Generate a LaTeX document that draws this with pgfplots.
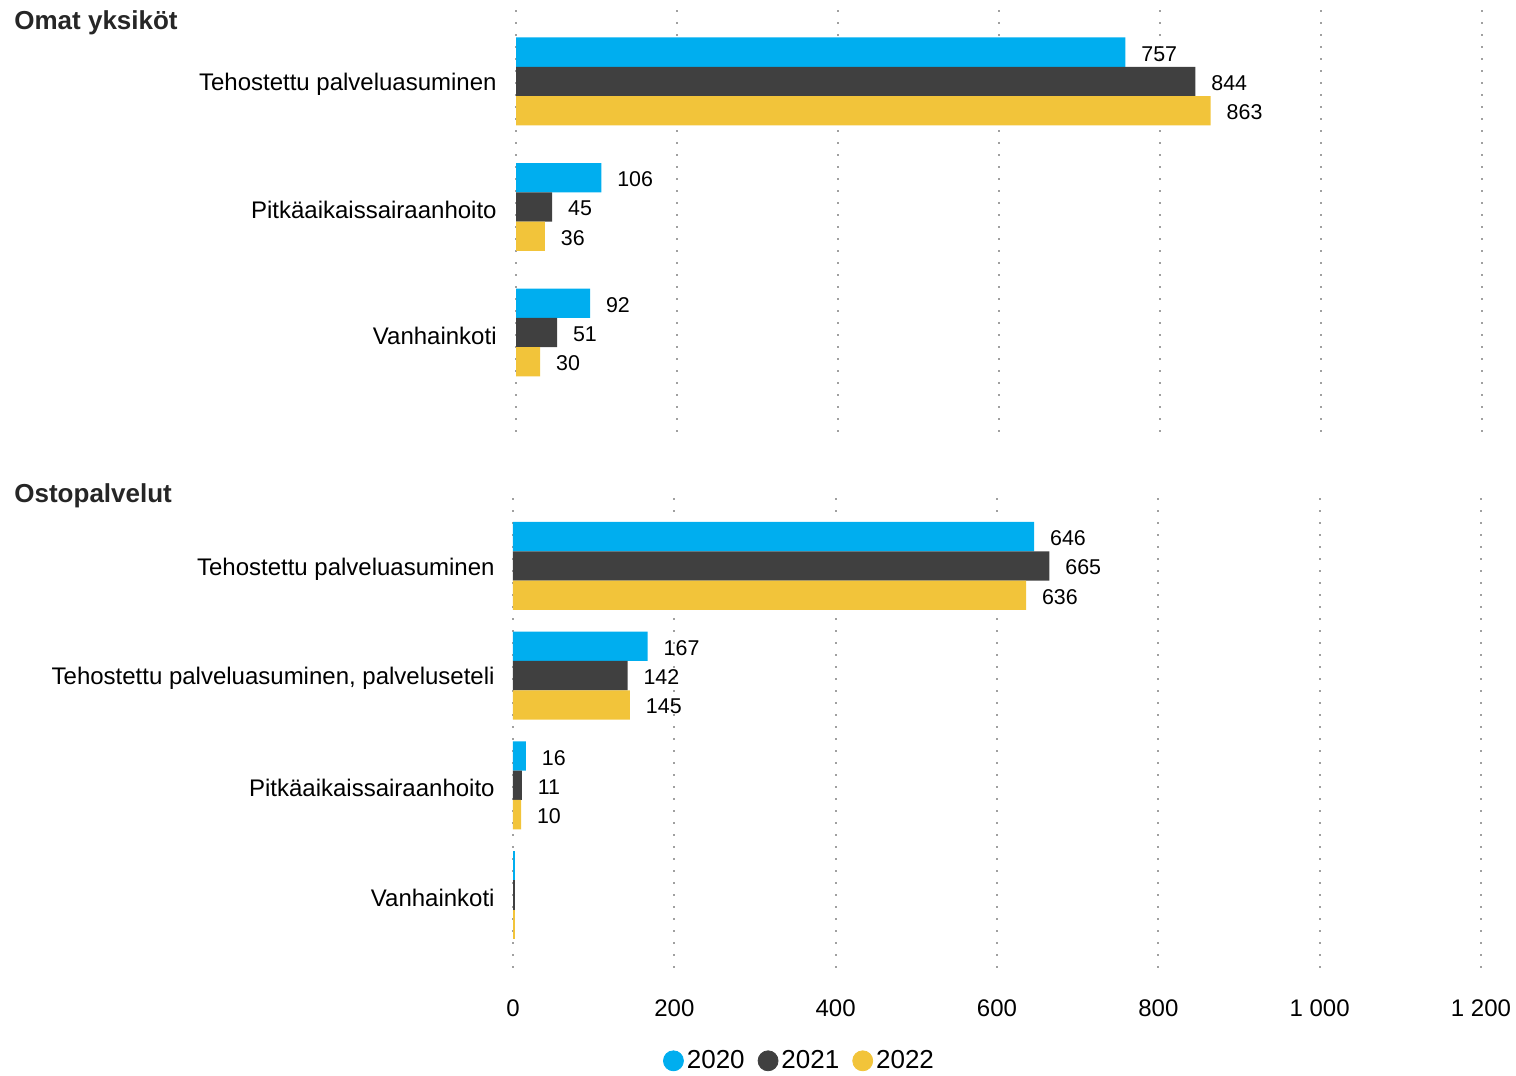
\documentclass[border=0pt]{standalone}
\usepackage{fontspec}
\setmainfont{Liberation Sans}
\usepackage{pgfplots}
\pgfplotsset{compat=1.18}
\definecolor{c20}{HTML}{00AEEF}
\definecolor{c21}{HTML}{404040}
\definecolor{c22}{HTML}{F2C43A}
\definecolor{gridc}{HTML}{A0A0A0}
\definecolor{titc}{HTML}{262626}
\pgfplotsset{
  mybase/.style={
    xbar, scale only axis,
    bar width=14.65pt,
    xmin=0, xmax=1200,
    xtick={0,200,400,600,800,1000,1200},
    xmajorgrids,
    major grid style={gridc, line width=1pt, dash pattern=on 1pt off 5pt},
    axis line style={draw=none},
    major tick length=0pt,
    tick style={draw=none},
    yticklabel style={anchor=east, inner sep=0pt, yshift=-1.5pt, font=\fontsize{12}{14}\selectfont},
    nodes near coords,
    point meta=explicit symbolic,
    nodes near coords style={anchor=west, inner sep=0pt, xshift=7.8pt, yshift=-0.8pt, font=\fontsize{10.7}{12}\selectfont, black},
  }
}
\begin{document}
\begin{tikzpicture}
\path[use as bounding box] (0,0) rectangle (758pt,538pt);
\node[anchor=west, inner sep=0pt, text=titc, font=\bfseries\fontsize{13}{15}\selectfont] at (7pt,526.5pt) {Omat yksiköt};
\node[anchor=west, inner sep=0pt, text=titc, font=\bfseries\fontsize{13}{15}\selectfont] at (7pt,290pt) {Ostopalvelut};

% Top panel
\begin{axis}[mybase,
  at={(258pt,322pt)}, anchor=south west,
  width=483pt, height=216pt,
  ymin=-0.793, ymax=2.649,
  ytick={0,1,2},
  yticklabels={Vanhainkoti,Pitkäaikaissairaanhoito,Tehostettu palveluasuminen},
  yticklabel style={xshift=-9.5pt},
  xticklabels={},
]
\addplot[fill=c20, draw=none, bar shift=14.65pt] coordinates {(757,2) [757] (106,1) [106] (92,0) [92]};
\addplot[fill=c21, draw=none, bar shift=0pt] coordinates {(844,2) [844] (45,1) [45] (51,0) [51]};
\addplot[fill=c22, draw=none, bar shift=-14.65pt] coordinates {(863,2) [863] (36,1) [36] (30,0) [30]};
\end{axis}

% Bottom panel
\begin{axis}[mybase,
  at={(256.5pt,54pt)}, anchor=south west,
  width=484pt, height=238pt,
  ymin=-0.665, ymax=3.674,
  ytick={0,1,2,3},
  yticklabels={Vanhainkoti,Pitkäaikaissairaanhoito,{Tehostettu palveluasuminen, palveluseteli},Tehostettu palveluasuminen},
  yticklabel style={xshift=-9pt},
  xticklabels={0,200,400,600,800,1 000,1 200},
  xticklabel style={anchor=center, yshift=-20pt, font=\fontsize{12}{14}\selectfont},
  legend style={draw=none, fill=none, legend columns=3,
    at={(axis description cs:0.2965,-0.195)}, anchor=center,
    font=\fontsize{13}{15}\selectfont,
    nodes={inner sep=1.5pt},
    /tikz/every even column/.append style={column sep=5pt}},
]
\addlegendimage{legend image code/.code={\fill[c20] (0pt,0pt) circle (5pt);}}
\addlegendentry{2020}
\addlegendimage{legend image code/.code={\fill[c21] (0pt,0pt) circle (5pt);}}
\addlegendentry{2021}
\addlegendimage{legend image code/.code={\fill[c22] (0pt,0pt) circle (5pt);}}
\addlegendentry{2022}
\addplot[fill=c20, draw=none, bar shift=14.65pt, forget plot] coordinates {(646,3) [646] (167,2) [167] (16,1) [16]};
\addplot[fill=c21, draw=none, bar shift=0pt, forget plot] coordinates {(665,3) [665] (142,2) [142] (11,1) [11]};
\addplot[fill=c22, draw=none, bar shift=-14.65pt, forget plot] coordinates {(636,3) [636] (145,2) [145] (10,1) [10]};
\addplot[fill=c20, draw=none, bar shift=14.65pt, forget plot, nodes near coords=] coordinates {(3,0) [3]};
\addplot[fill=c21, draw=none, bar shift=0pt, forget plot, nodes near coords=] coordinates {(3,0) [3]};
\addplot[fill=c22, draw=none, bar shift=-14.65pt, forget plot, nodes near coords=] coordinates {(2,0) [2]};
\end{axis}
\end{tikzpicture}
\end{document}
